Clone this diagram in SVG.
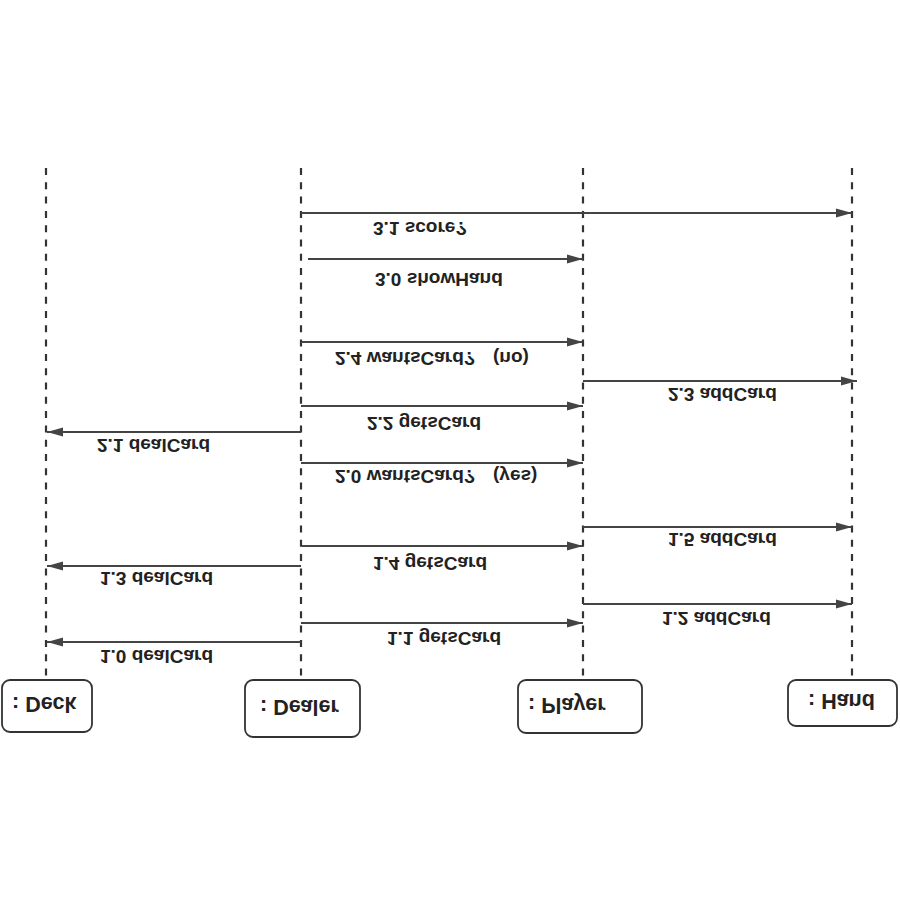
<svg xmlns="http://www.w3.org/2000/svg" width="900" height="900" viewBox="0 0 900 900">
<style>
.life{stroke:#333;stroke-width:2.2;stroke-dasharray:7 7.3;fill:none}
.box{fill:#fff;stroke:#333;stroke-width:1.8}
.msg{stroke:#444;stroke-width:2;fill:none;marker-end:url(#ah)}
.lbl{font-family:"Liberation Sans",Arial,sans-serif;font-weight:bold;font-size:19px;fill:#222}
.nlbl{font-family:"Liberation Sans",Arial,sans-serif;font-weight:bold;font-size:21.5px;fill:#222}
</style>
<defs>
<marker id="ah" markerUnits="userSpaceOnUse" markerWidth="17" markerHeight="10" refX="16" refY="5" orient="auto">
<path d="M0,0.5 L16,5 L0,9.5 z" fill="#444"/>
</marker>
</defs>
<rect width="900" height="900" fill="#fff"/>
<g transform="matrix(1 0 0 -1 0 900)">
<g id="lifelines">
<line class="life" x1="46" y1="732" x2="46" y2="220"/>
<line class="life" x1="301" y1="732" x2="301" y2="220"/>
<line class="life" x1="583" y1="732" x2="583" y2="220"/>
<line class="life" x1="852" y1="732" x2="852" y2="220"/>
</g>
<g id="deck"><rect class="box" x="2" y="168" width="90" height="52" rx="8"/><text class="nlbl" x="12" y="203">: Deck</text></g>
<g id="dealer"><rect class="box" x="245" y="163" width="115" height="57" rx="8"/><text class="nlbl" x="260" y="200">: Dealer</text></g>
<g id="player"><rect class="box" x="518" y="167" width="124" height="53" rx="8"/><text class="nlbl" x="528" y="202">: Player</text></g>
<g id="hand"><rect class="box" x="788" y="174" width="109" height="46" rx="8"/><text class="nlbl" x="808" y="206">: Hand</text></g>
<g id="connectors">
<line class="msg" x1="301" y1="687" x2="852" y2="687"/>
<line class="msg" x1="308" y1="641" x2="583" y2="641"/>
<line class="msg" x1="301" y1="558" x2="583" y2="558"/>
<line class="msg" x1="583" y1="519" x2="857" y2="519"/>
<line class="msg" x1="301" y1="494" x2="583" y2="494"/>
<line class="msg" x1="301" y1="468" x2="47" y2="468"/>
<line class="msg" x1="301" y1="437" x2="583" y2="437"/>
<line class="msg" x1="583" y1="373" x2="852" y2="373"/>
<line class="msg" x1="302" y1="354" x2="583" y2="354"/>
<line class="msg" x1="301" y1="334" x2="47" y2="334"/>
<line class="msg" x1="583" y1="296" x2="852" y2="296"/>
<line class="msg" x1="301" y1="277" x2="583" y2="277"/>
<line class="msg" x1="301" y1="258" x2="47" y2="258"/>
</g>
<g id="labels">
<text class="lbl" x="373" y="678">3.1 score?</text>
<text class="lbl" x="375" y="627">3.0 showHand</text>
<text class="lbl" x="335" y="548">2.4 wantsCard?<tspan x="493">(no)</tspan></text>
<text class="lbl" x="668" y="512">2.3 addCard</text>
<text class="lbl" x="367" y="483">2.2 getsCard</text>
<text class="lbl" x="97" y="461">2.1 dealCard</text>
<text class="lbl" x="335" y="430">2.0 wantsCard?<tspan x="493">(yes)</tspan></text>
<text class="lbl" x="668" y="367">1.5 addCard</text>
<text class="lbl" x="373" y="343">1.4 getsCard</text>
<text class="lbl" x="100" y="328">1.3 dealCard</text>
<text class="lbl" x="662" y="288">1.2 addCard</text>
<text class="lbl" x="387" y="268">1.1 getsCard</text>
<text class="lbl" x="100" y="250">1.0 dealCard</text>
</g>
</g>
</svg>
